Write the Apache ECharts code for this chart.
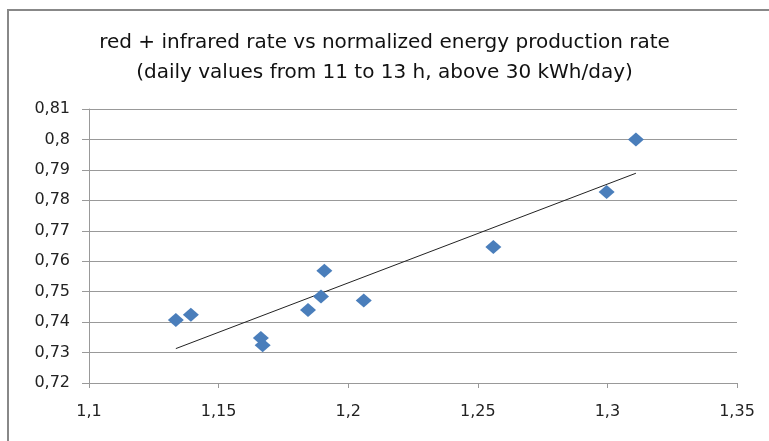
<!DOCTYPE html>
<html><head><meta charset="utf-8">
<script src="https://cdn.jsdelivr.net/npm/echarts@6/dist/echarts.min.js"></script>
<style>html,body{margin:0;padding:0;background:#fff}#c{width:769px;height:441px}</style>
</head><body><div id="c"></div>
<script>
const titleLines = ['red + infrared rate vs normalized energy production rate', '(daily values from 11 to 13 h, above 30 kWh/day)'];
const xValues = [1.1335, 1.1393, 1.1663, 1.1670, 1.1845, 1.1895, 1.1908, 1.2060, 1.2560, 1.2997, 1.3110];
const yValues = [0.7407, 0.7424, 0.7348, 0.7324, 0.7440, 0.7484, 0.7569, 0.7471, 0.7647, 0.7827, 0.8000];
const trendX = [1.1335, 1.3110];
const trendY = [0.7313, 0.7889];
const xTicks = [1.1, 1.15, 1.2, 1.25, 1.3, 1.35];
const yTicks = [0.72, 0.73, 0.74, 0.75, 0.76, 0.77, 0.78, 0.79, 0.8, 0.81];

const fmt = v => String(Math.round(v * 1000) / 1000).replace('.', ',');
const chart = echarts.init(document.getElementById('c'), null, {renderer: 'canvas'});
chart.setOption({
  animation: false,
  backgroundColor: '#fff',
  title: {
    text: titleLines.join('\n'),
    left: 'center', top: 23,
    textStyle: {fontFamily: 'DejaVu Sans', fontSize: 20, fontWeight: 'normal', color: '#111', lineHeight: 30}
  },
  graphic: [{type: 'rect', shape: {x: 8, y: 10, width: 800, height: 500}, style: {fill: 'none', stroke: '#888', lineWidth: 2}, silent: true}],
  grid: {left: 89, right: 32, top: 109, bottom: 58, containLabel: false},
  xAxis: {
    type: 'value', min: xTicks[0], max: xTicks[xTicks.length - 1], interval: 0.05,
    axisLine: {show: true, lineStyle: {color: '#999', width: 1}},
    axisTick: {show: true, length: 5, lineStyle: {color: '#999'}},
    axisLabel: {margin: 21, formatter: fmt, fontFamily: 'DejaVu Sans', fontSize: 16, color: '#222'},
    splitLine: {show: false}
  },
  yAxis: {
    type: 'value', min: yTicks[0], max: yTicks[yTicks.length - 1], interval: 0.01,
    axisLine: {show: true, lineStyle: {color: '#999', width: 1}},
    axisTick: {show: true, length: 7, lineStyle: {color: '#999'}},
    axisLabel: {margin: 19, formatter: fmt, fontFamily: 'DejaVu Sans', fontSize: 16, color: '#222'},
    splitLine: {show: true, lineStyle: {color: '#999', width: 1}}
  },
  series: [
    {type: 'line', data: trendX.map((x, i) => [x, trendY[i]]), symbol: 'none', lineStyle: {color: '#222', width: 1}, z: 3},
    {type: 'scatter', data: xValues.map((x, i) => [x, yValues[i]]), symbol: 'diamond', symbolSize: [16, 14], itemStyle: {color: '#4a7ebb', opacity: 1}, z: 4}
  ]
});
</script></body></html>
